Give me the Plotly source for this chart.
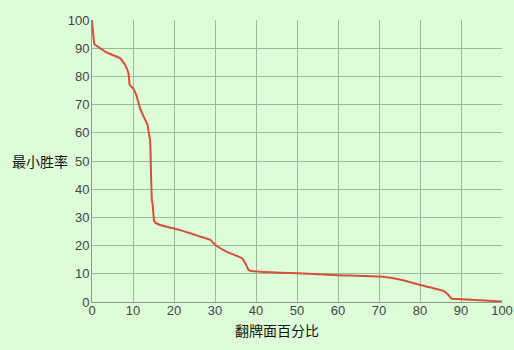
import plotly.graph_objects as go

flop_pct = [0, 0.3, 0.6, 2, 3.2, 5, 6.9, 8.1, 8.9, 9.2, 10, 10.8, 11.8, 13, 13.5,
            14.2, 14.4, 14.6, 14.8, 15.2, 16.6, 19.9, 21.5, 26.4, 28.9, 30.1, 32.9,
            36.6, 37.5, 38.2, 39, 45.9, 50.4, 60, 70.3, 75.6, 80.1, 85.4, 86.5, 87.2,
            87.7, 90, 100]
min_win = [100, 95, 91.4, 90, 88.8, 87.6, 86.4, 84, 81.1, 77, 75.8, 73.4, 68.4, 64.5, 63,
           56.8, 45, 36.2, 34.5, 28.5, 27.3, 26.1, 25.5, 23.2, 22, 20.2, 17.8,
           15.5, 13.5, 11.3, 11, 10.4, 10.2, 9.5, 9, 7.8, 6, 4.1, 3.2, 2,
           1.2, 1, 0.2]
tick_vals = [0, 10, 20, 30, 40, 50, 60, 70, 80, 90, 100]
x_title = "翻牌面百分比"
y_title = "最小胜率"

bg = "#ddfdd9"
grid = "#9db89a"
tickfont = dict(family="Liberation Sans, Arial, sans-serif", size=13, color="#444444")
cjk = "Noto Sans CJK SC"

fig = go.Figure()
fig.add_trace(go.Scatter(x=flop_pct, y=min_win, mode="lines",
                         line=dict(color="#d4503a", width=2, shape="spline", smoothing=0.3),
                         hoverinfo="skip"))

axis_common = dict(range=[0, 100], tickvals=tick_vals, showgrid=True, gridcolor=grid,
                   gridwidth=1, zeroline=False, showline=True, linecolor="#8a9a88",
                   linewidth=1, mirror=False, ticks="", tickfont=tickfont,
                   automargin=False)

fig.update_layout(
    width=514, height=350,
    margin=dict(l=92, r=12, t=20, b=48),
    paper_bgcolor=bg, plot_bgcolor=bg,
    showlegend=False,
    xaxis=dict(**axis_common, ticklabelstandoff=-4),
    yaxis=dict(**axis_common, ticklabelstandoff=-1),
    annotations=[
        dict(text=y_title, xref="paper", yref="paper", x=-0.127, y=0.5,
             xanchor="center", yanchor="middle", showarrow=False,
             font=dict(family=cjk, size=14, color="#111111")),
        dict(text=x_title, xref="paper", yref="paper", x=(277 - 92) / 410.5,
             y=(302 - 330) / 282, xanchor="center", yanchor="middle", showarrow=False,
             font=dict(family=cjk, size=14, color="#111111")),
    ],
)

fig.write_html("out.html")
